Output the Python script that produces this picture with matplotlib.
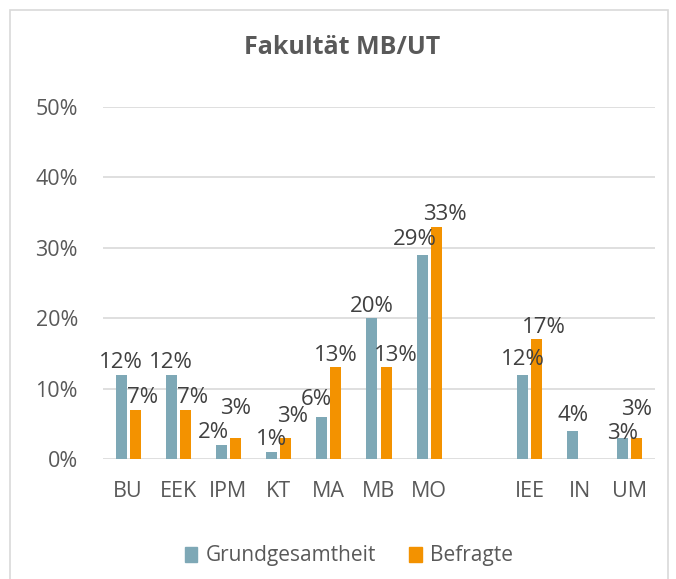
import numpy as np
import matplotlib
matplotlib.use("Agg")
import matplotlib.pyplot as plt
from matplotlib import font_manager
from matplotlib.patches import Rectangle, Patch

categories = ["BU", "EEK", "IPM", "KT", "MA", "MB", "MO", "", "IEE", "IN", "UM"]
grundgesamtheit = [12, 12, 2, 1, 6, 20, 29, np.nan, 12, 4, 3]
befragte = [7, 7, 3, 3, 13, 13, 33, np.nan, 17, np.nan, 3]
series_names = ["Grundgesamtheit", "Befragte"]
yticks = [0, 10, 20, 30, 40, 50]

# label nudges in pixels (dx, dy) - style only
nudge_g = [(0, 0), (0, 0), (-8, 0), (0, 0), (-5, 5), (0, 0), (-7, 3), (0, 0), (0, 3), (0, 3), (0, -8)]
nudge_b = [(7, 0), (7, 0), (0, 17), (7, 9), (0, 0), (10, 0), (9, 0), (0, 0), (7, 0), (0, 0), (0, 16)]

names = {f.name for f in font_manager.fontManager.ttflist}
base_font = "Open Sans" if "Open Sans" in names else "DejaVu Sans"
plt.rcParams["font.family"] = [base_font, "DejaVu Sans"]

W, H = 676, 579
fig = plt.figure(figsize=(W / 100, H / 100), dpi=100)
fig.patch.set_facecolor("white")

# chart border
fig.patches.append(Rectangle((10 / W, -0.02), (668 - 10) / W, (H - 10) / H + 0.02,
                             transform=fig.transFigure, fill=False,
                             edgecolor="#d9d9d9", linewidth=1.2))

ax = fig.add_axes([103 / W, (H - 459) / H, (655 - 103) / W, (459 - 107) / H])
grey = "#595959"
c_g = "#7ea8b6"
c_b = "#f39200"

x = np.arange(len(categories))
bw = 0.22
off = 0.14
ax.bar(x - off, grundgesamtheit, width=bw, color=c_g, zorder=3)
ax.bar(x + off, befragte, width=bw, color=c_b, zorder=3)

ax.set_xlim(-0.5, len(categories) - 0.5)
ax.set_ylim(0, 50)
ax.set_yticks(yticks)
ax.set_yticklabels([f"{v}%" for v in yticks])
ax.set_xticks(x)
ax.set_xticklabels(categories)
ax.tick_params(axis="both", length=0, colors=grey, labelsize=15.5)
ax.tick_params(axis="y", pad=18)
ax.tick_params(axis="x", pad=16)
for s in ax.spines.values():
    s.set_visible(False)
ax.grid(axis="y", color="#d9d9d9", linewidth=1.2, zorder=0)
ax.set_axisbelow(True)

def label(vals, xs, nudges):
    for v, xx, (dx, dy) in zip(vals, xs, nudges):
        if np.isnan(v):
            continue
        ax.annotate(f"{int(v)}%", (xx, v), xytext=(dx * 0.72, (12 + dy) * 0.72),
                    textcoords="offset points", ha="center", va="center",
                    fontsize=16, color="#404040", zorder=4)

label(grundgesamtheit, x - off, nudge_g)
label(befragte, x + off, nudge_b)

fig.text(342 / W, 1 - 48 / H, "Fakultät MB/UT", ha="center", va="center",
         fontsize=18, fontweight="bold", color=grey)

handles = [Patch(color=c_g), Patch(color=c_b)]
fig.legend(handles, series_names, loc="center", bbox_to_anchor=(349 / W, 1 - 556 / H),
           ncol=2, frameon=False, fontsize=15, labelcolor=grey,
           handlelength=0.6, handleheight=0.75, handletextpad=0.4, columnspacing=1.6)

fig.savefig("out.png", dpi=100)
